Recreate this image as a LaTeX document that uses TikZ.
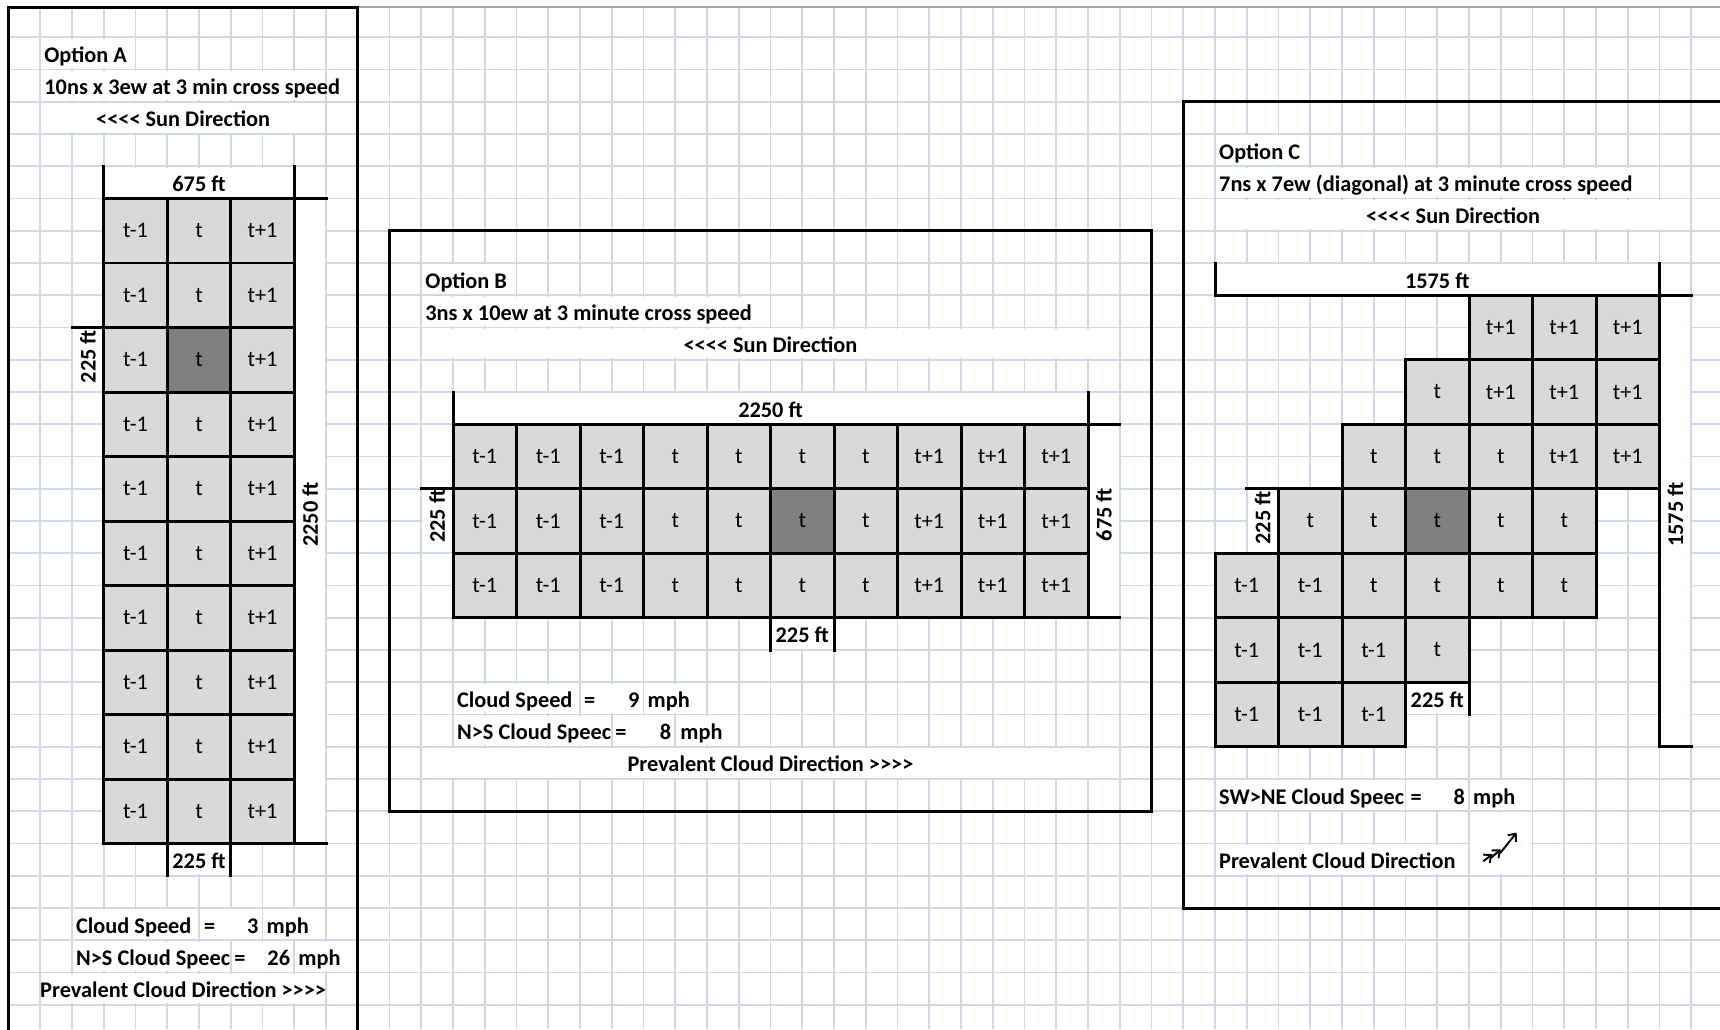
\documentclass[tikz,border=0pt]{standalone}
\usepackage{fontspec}
\setmainfont{Carlito}[Ligatures=TeXOff]
\usepackage{tikz}
\usetikzlibrary{arrows.meta}
\definecolor{gridblue}{RGB}{208,215,229}
\definecolor{cellgray}{RGB}{217,217,217}
\definecolor{hotgray}{RGB}{128,128,128}
\definecolor{topgray}{RGB}{165,165,165}
\newcommand{\sheetfont}{\fontsize{12.7}{14}\selectfont}

\begin{document}
\begin{tikzpicture}[
  x=0.635cm, y=-0.645cm,
  gridln/.style={draw=gridblue, line width=0.9pt},
  edge/.style={line width=1.7pt, line cap=rect},
  cellbox/.style={draw, line width=1.7pt, fill=cellgray, minimum width=1.27cm,
                  minimum height=1.29cm, inner sep=0pt, font=\sheetfont},
  hotbox/.style={cellbox, fill=hotgray},
  lbl/.style={anchor=base west, inner sep=0pt, font=\sheetfont\bfseries},
  mid/.style={lbl, anchor=base},
  num/.style={lbl, anchor=base east},
  side/.style={inner sep=0pt, rotate=90, font=\sheetfont\bfseries}
]

\fill[white] (-0.2677,-0.155) rectangle (53.905,31.752);
\useasboundingbox (-0.2677,-0.155) rectangle (53.905,31.752);

% sheet grid
\foreach \cx in {1,...,53} \draw[gridln] (\cx,0.07) -- (\cx,31.752);
\foreach \ry in {1,...,31} \draw[gridln] (0,\ry) -- (53.905,\ry);
\draw[topgray, line width=1.2pt] (0,0.07) -- (53.905,0.07);

% cells whose text hides the grid
\foreach \xa/\ya/\xb/\yb in {
    1/1/4/2, 1/2/10/3, 1/3/10/4, 3/5/9/6, 9/6/10/26, 2/10/3/12, 5/26/7/27,
    2/28/6/29, 6/28/8/29, 8/28/10/29, 2/29/7/30, 7/29/9/30, 9/29/11/30, 1/30/10/31,
    13/8/16/9, 13/9/24/10, 13/10/35/11, 14/12/34/13, 34/13/35/19, 13/15/14/17,
    24/19/26/20, 14/21/18/22, 18/21/20/22, 20/21/22/22, 14/22/19/23, 19/22/21/23,
    21/22/23/23, 13/23/35/24,
    38/4/41/5, 38/5/52/6, 38/6/53/7, 38/8/52/9, 52/9/53/23, 39/15/40/17,
    44/21/46/22, 38/24/44/25, 44/24/46/25, 46/24/48/25, 38/26/46/27, 46/25/48/27}
  \fill[white] (\xa+0.04,\ya+0.04) rectangle (\xb-0.04,\yb-0.04);

% Option A
\foreach \i/\st in {0/cellbox,1/cellbox,2/hotbox,3/cellbox,4/cellbox,
                    5/cellbox,6/cellbox,7/cellbox,8/cellbox,9/cellbox} {
  \node[cellbox] (a-\i-0) at (4,{7+2*\i}) {t-1};
  \node[\st]     (a-\i-1) at (6,{7+2*\i}) {t};
  \node[cellbox] (a-\i-2) at (8,{7+2*\i}) {t+1};
}

% Option B
\foreach \j/\tx/\st in {0/t-1/cellbox,1/t-1/cellbox,2/t-1/cellbox,3/t/cellbox,4/t/cellbox,
                        5/t/hotbox,6/t/cellbox,7/t+1/cellbox,8/t+1/cellbox,9/t+1/cellbox} {
  \node[cellbox] (b-0-\j) at ({15+2*\j},14) {\tx};
  \node[\st]     (b-1-\j) at ({15+2*\j},16) {\tx};
  \node[cellbox] (b-2-\j) at ({15+2*\j},18) {\tx};
}

% Option C
\foreach \j/\i/\tx/\st in {
    4/0/t+1/cellbox, 5/0/t+1/cellbox, 6/0/t+1/cellbox,
    3/1/t/cellbox, 4/1/t+1/cellbox, 5/1/t+1/cellbox, 6/1/t+1/cellbox,
    2/2/t/cellbox, 3/2/t/cellbox, 4/2/t/cellbox, 5/2/t+1/cellbox, 6/2/t+1/cellbox,
    1/3/t/cellbox, 2/3/t/cellbox, 3/3/t/hotbox, 4/3/t/cellbox, 5/3/t/cellbox,
    0/4/t-1/cellbox, 1/4/t-1/cellbox, 2/4/t/cellbox, 3/4/t/cellbox, 4/4/t/cellbox, 5/4/t/cellbox,
    0/5/t-1/cellbox, 1/5/t-1/cellbox, 2/5/t-1/cellbox, 3/5/t/cellbox,
    0/6/t-1/cellbox, 1/6/t-1/cellbox, 2/6/t-1/cellbox}
  \node[\st] (c-\i-\j) at ({39+2*\j},{10+2*\i}) {\tx};

% borders
\draw[edge] (0,32) -- (0,0.07) -- (11,0.07) -- (11,32);
\draw[edge] (3,26) -- (3,5);
\draw[edge] (9,5) -- (9,26);
\draw[edge] (3,6) -- (10,6);
\draw[edge] (3,26) -- (10,26);
\draw[edge] (2,10) -- (3,10);
\draw[edge] (5,26) -- (5,27);
\draw[edge] (7,26) -- (7,27);

\draw[edge] (12,7) rectangle (36,25);
\draw[edge] (14,12) -- (14,19);
\draw[edge] (34,12) -- (34,19);
\draw[edge] (14,13) -- (35,13);
\draw[edge] (14,19) -- (35,19);
\draw[edge] (13,15) -- (14,15);
\draw[edge] (24,19) -- (24,20);
\draw[edge] (26,19) -- (26,20);

\draw[edge] (54.5,3) -- (37,3) -- (37,28) -- (54.5,28);
\draw[edge] (38,8) -- (38,9);
\draw[edge] (52,8) -- (52,23) -- (53,23);
\draw[edge] (38,9) -- (53,9);
\draw[edge] (39,15) -- (40,15);
\draw[edge] (46,21) -- (46,22);

% Option A texts
\node[lbl] (optA)   at (1.12,1.78) {Option A};
\node[lbl] (descA)  at (1.12,2.78) {10ns x 3ew at 3 min cross speed};
\node[mid] (sunA)   at (5.5,3.78)  {<<<< Sun Direction};
\node[mid] (wideA)  at (6,5.78)    {675 ft};
\node[side] (longA) at (9.5,15.8)  {2250 ft};
\node[side] (rowA)  at (2.5,10.9)  {225 ft};
\node[mid] (colA)   at (6,26.78)   {225 ft};
\node[lbl] (spdA)   at (2.12,28.78) {Cloud Speed};
\node[lbl] (eqA)    at (6.15,28.78) {=};
\node[num] (valA)   at (7.88,28.78) {3};
\node[lbl] (unitA)  at (8.12,28.78) {mph};
\begin{scope}
  \clip (2,29) rectangle (7,30);
  \node[lbl] (nsA)  at (2.12,29.78) {N>S Cloud Speec};
\end{scope}
\node[lbl] (eqnsA)  at (7.1,29.78)  {=};
\node[num] (valnsA) at (8.88,29.78) {26};
\node[lbl] (untnsA) at (9.12,29.78) {mph};
\node[mid] (dirA)   at (5.5,30.78)  {Prevalent Cloud Direction >>>>};

% Option B texts
\node[lbl] (optB)   at (13.12,8.78) {Option B};
\node[lbl] (descB)  at (13.12,9.78) {3ns x 10ew at 3 minute cross speed};
\node[mid] (sunB)   at (24,10.78)   {<<<< Sun Direction};
\node[mid] (wideB)  at (24,12.78)   {2250 ft};
\node[side] (longB) at (34.5,15.8)  {675 ft};
\node[side] (rowB)  at (13.5,15.85) {225 ft};
\node[mid] (colB)   at (25,19.78)   {225 ft};
\node[lbl] (spdB)   at (14.12,21.78) {Cloud Speed};
\node[lbl] (eqB)    at (18.12,21.78) {=};
\node[num] (valB)   at (19.88,21.78) {9};
\node[lbl] (unitB)  at (20.12,21.78) {mph};
\begin{scope}
  \clip (14,22) rectangle (19,23);
  \node[lbl] (nsB)  at (14.12,22.78) {N>S Cloud Speec};
\end{scope}
\node[lbl] (eqnsB)  at (19.1,22.78)  {=};
\node[num] (valnsB) at (20.88,22.78) {8};
\node[lbl] (untnsB) at (21.15,22.78) {mph};
\node[mid] (dirB)   at (24,23.78)    {Prevalent Cloud Direction >>>>};

% Option C texts
\node[lbl] (optC)   at (38.12,4.78) {Option C};
\node[lbl] (descC)  at (38.12,5.78) {7ns x 7ew (diagonal) at 3 minute cross speed};
\node[mid] (sunC)   at (45.5,6.78)  {<<<< Sun Direction};
\node[mid] (wideC)  at (45,8.78)    {1575 ft};
\node[side] (longC) at (52.5,15.8)  {1575 ft};
\node[side] (rowC)  at (39.5,15.9)  {225 ft};
\node[mid] (colC)   at (45,21.78)   {225 ft};
\begin{scope}
  \clip (38,24) rectangle (44,25);
  \node[lbl] (swC)  at (38.12,24.78) {SW>NE Cloud Speec};
\end{scope}
\node[lbl] (eqC)    at (44.15,24.78) {=};
\node[num] (valC)   at (45.88,24.78) {8};
\node[lbl] (unitC)  at (46.12,24.78) {mph};
\node[lbl] (dirC)   at (38.12,26.78) {Prevalent Cloud Direction};

% cloud direction arrows
\coordinate (ne0) at (46.45,26.55);
\coordinate (ne1) at (46.74,26.33);
\coordinate (ne2) at (46.70,26.44);
\coordinate (ne3) at (47.00,26.18);
\coordinate (ne4) at (46.98,26.30);
\coordinate (ne5) at (47.50,25.66);
\foreach \ta/\tb in {ne0/ne1, ne2/ne3, ne4/ne5}
  \draw[line width=1.1pt, -{Straight Barb[length=3.5pt, width=6pt, line width=1.1pt]}] (\ta) -- (\tb);

\end{tikzpicture}
\end{document}
